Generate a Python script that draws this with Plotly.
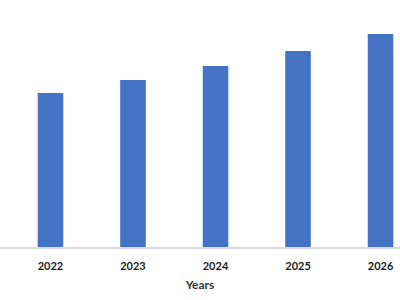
import plotly.graph_objects as go

years = ["2022", "2023", "2024", "2025", "2026"]
values = [154, 167, 181, 196, 213]

fig = go.Figure(go.Bar(x=years, y=values, marker=dict(color="#4472C4", line=dict(width=0)), width=0.31))

fig.update_layout(
    width=400, height=300,
    margin=dict(l=0, r=0, t=0, b=53),
    paper_bgcolor="white", plot_bgcolor="white",
    showlegend=False,
    font=dict(family="Lato", color="#222222"),
    xaxis=dict(
        range=[-0.612, 4.236],
        showline=True, linecolor="#d9d9d9", linewidth=1.5,
        showgrid=False, ticks="", ticklabelstandoff=8,
        tickfont=dict(size=11, family="Lato", weight="bold", color="#222222"),
        title=dict(text="<b>Years</b>", font=dict(size=12, family="Lato", color="#333333"), standoff=10),
    ),
    yaxis=dict(range=[0, 247], visible=False),
)

fig.write_html("out.html")
